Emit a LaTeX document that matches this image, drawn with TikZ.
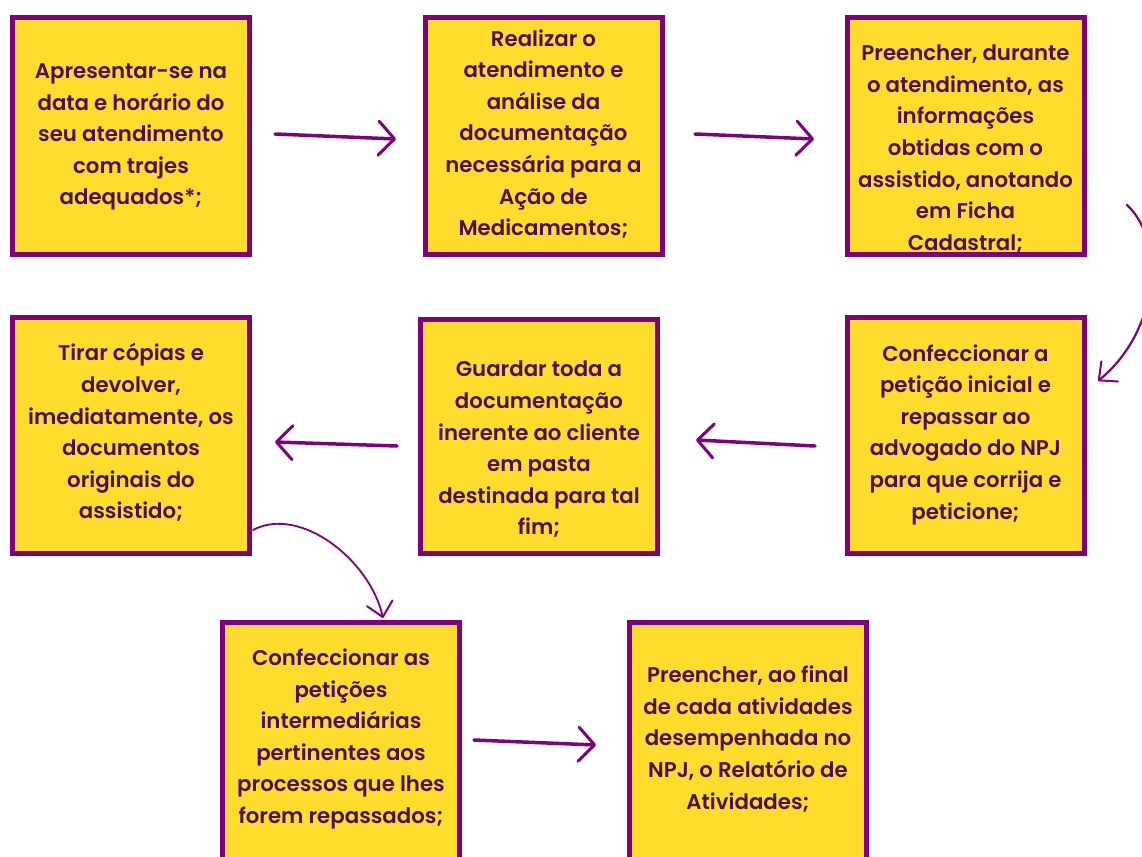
\documentclass[tikz,border=0pt]{standalone}
\usepackage{fontspec}
\setmainfont{Poppins}
\newfontfamily\qsfont{Poppins SemiBold}
\usetikzlibrary{arrows.meta}
\definecolor{boxfill}{HTML}{FDDC2C}
\definecolor{boxline}{HTML}{800080}
\definecolor{txt}{HTML}{4B1050}
\definecolor{arrowc}{HTML}{800080}
\tikzset{
  stepbox/.style={draw=boxline, fill=boxfill, line width=5pt, minimum width=237pt, minimum height=237pt, inner sep=0pt},
  steptext/.style={text=txt, align=center, font=\qsfont\fontsize{21.3}{31.6}\selectfont, inner sep=0pt},
  flow/.style={draw=arrowc, line width=3.5pt, line cap=round, -{Straight Barb[length=16pt,width=34pt,line width=3pt,round]}},
  thinflow/.style={draw=arrowc, line width=2.2pt, line cap=round, -{Straight Barb[length=14pt,width=26pt,line width=2pt,round]}},
}
\begin{document}
\begin{tikzpicture}[x=1pt,y=-1pt]
\useasboundingbox (0,0) rectangle (1142,856);
\begin{scope}
\clip (0,0) rectangle (1142,856);
\node[stepbox] (b1) at (131,136) {};
\node[stepbox] (b2) at (543.5,136) {};
\node[stepbox] (b3) at (965.5,136) {};
\node[stepbox, minimum height=236pt] (b4) at (131,435.5) {};
\node[stepbox, minimum height=234pt] (b5) at (539,436.5) {};
\node[stepbox, minimum height=236pt] (b6) at (965.5,435.5) {};
\node[stepbox] (b7) at (341,741) {};
\node[stepbox] (b8) at (748,741) {};

\node[steptext] (t1) at ([yshift=-1pt]b1.center) {Apresentar-se na\\data e horário do\\seu atendimento\\com trajes\\adequados*;};
\node[steptext] (t2) at ([yshift=2pt]b2.center) {Realizar o\\atendimento e\\análise da\\documentação\\necessária para a\\Ação de\\Medicamentos;};
\node[steptext] (t3) at ([yshift=-13pt]b3.center) {Preencher, durante\\o atendimento, as\\informações\\obtidas com o\\assistido, anotando\\em Ficha\\Cadastral;};
\node[steptext] (t4) at ([yshift=3pt]b4.center) {Tirar cópias e\\devolver,\\imediatamente, os\\documentos\\originais do\\assistido;};
\node[steptext] (t5) at ([yshift=-13pt]b5.center) {Guardar toda a\\documentação\\inerente ao cliente\\em pasta\\destinada para tal\\fim;};
\node[steptext] (t6) at ([yshift=1pt]b6.center) {Confeccionar a\\petição inicial e\\repassar ao\\advogado do NPJ\\para que corrija e\\peticione;};
\node[steptext] (t7) at ([yshift=2pt]b7.center) {Confeccionar as\\petições\\intermediárias\\pertinentes aos\\processos que lhes\\forem repassados;};
\node[steptext] (t8) at ([yshift=2pt]b8.center) {Preencher, ao final\\de cada atividades\\desempenhada no\\NPJ, o Relatório de\\Atividades;};

\coordinate (a1s) at (275,134);
\coordinate (a1e) at (396,139);
\coordinate (a2s) at (695,134);
\coordinate (a2e) at (814,139);
\coordinate (a3s) at (1127,205);
\coordinate (a3e) at (1098,381);
\coordinate (a4s) at (815,446);
\coordinate (a4e) at (696,440);
\coordinate (a5s) at (397,446);
\coordinate (a5e) at (275,442);
\coordinate (a6s) at (253,530);
\coordinate (a6e) at (383,618);
\coordinate (a7s) at (474,740);
\coordinate (a7e) at (596,745);

\draw[flow] (a1s) -- (a1e);
\draw[flow] (a2s) -- (a2e);
\draw[thinflow] (a3s) .. controls (1165,240) and (1160,330) .. (a3e);
\draw[flow] (a4s) -- (a4e);
\draw[flow] (a5s) -- (a5e);
\draw[thinflow, line width=1.8pt] (a6s) .. controls (300,505) and (370,560) .. (a6e);
\draw[flow] (a7s) -- (a7e);
\end{scope}
\end{tikzpicture}
\end{document}
